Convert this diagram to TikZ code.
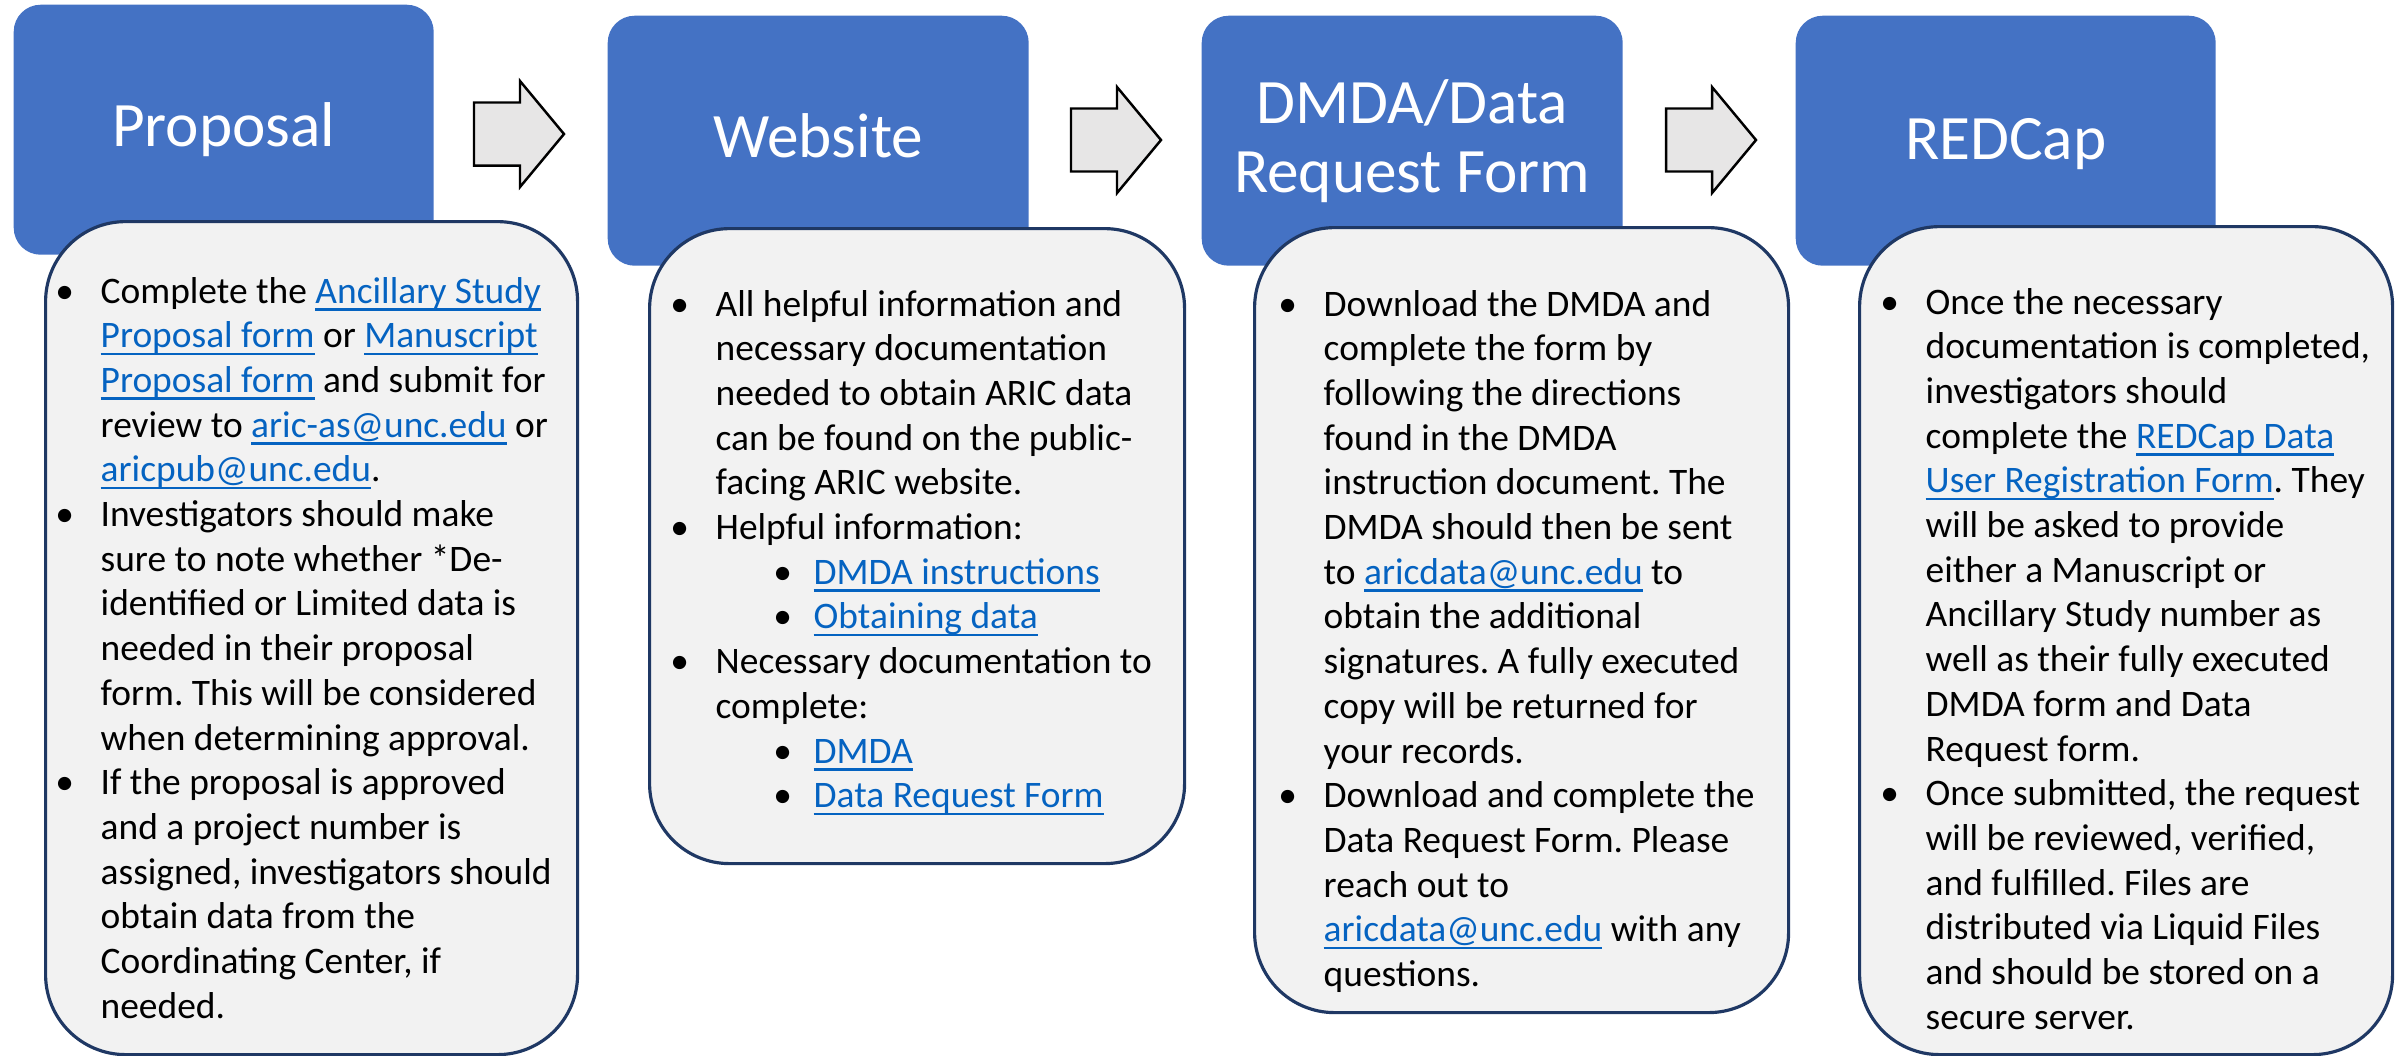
\documentclass[tikz,border=0pt]{standalone}
\usepackage{fontspec}
\setmainfont{Carlito}
\usepackage{tikz}
\frenchspacing
\definecolor{stepblue}{HTML}{4472C4}
\definecolor{infogray}{HTML}{F2F2F2}
\definecolor{infoline}{HTML}{1F3864}
\definecolor{arrowgray}{HTML}{E7E6E6}
\definecolor{linkblue}{HTML}{0563C1}
\newcommand\lnk[1]{{\color{linkblue}\setbox0\hbox{#1}\rlap{\rule[-0.075cm]{\wd0}{0.025cm}}\box0}}
\newcommand\bul{\llap{\makebox[0pt]{\textbullet}\hspace{0.36cm}}}
\newcommand\subbul{\hspace*{0.67cm}\makebox[0pt]{\textbullet}\hspace*{0.31cm}}
\tikzset{
  stepbox/.style={rectangle, rounded corners=0.27cm, fill=stepblue, anchor=north west, inner sep=0pt},
  steptitle/.style={text=white, font=\fontsize{18}{19.76}\selectfont, anchor=base, inner sep=0pt},
  infobox/.style={rectangle, rounded corners=0.8cm, fill=infogray, draw=infoline, line width=0.9pt, anchor=north west, inner sep=0pt},
  infotext/.style={font=\fontsize{10.65}{12.72}\selectfont, anchor=base west, inner sep=0pt},
  blockarrow/.style={fill=arrowgray, draw=black, line width=0.7pt, line join=miter}
}
\begin{document}
\begin{tikzpicture}
\useasboundingbox (0,0) rectangle (23.99,-10.55);
% Step headers
\node[stepbox, minimum width=4.20cm, minimum height=2.50cm] (proposal) at (0.13,-0.04) {};
\node[stepbox, minimum width=4.21cm, minimum height=2.50cm] (website) at (6.07,-0.15) {};
\node[stepbox, minimum width=4.21cm, minimum height=2.50cm] (dmda) at (12.01,-0.15) {};
\node[stepbox, minimum width=4.20cm, minimum height=2.50cm] (redcap) at (17.95,-0.15) {};
\node[steptitle, yshift=-0.17cm] (proposaltitle) at (proposal) {Proposal};
\node[steptitle, yshift=-0.17cm] (websitetitle) at (website) {Website};
\node[steptitle, yshift=0.175cm] (dmdatitle) at (dmda) {\begin{tabular}[t]{@{}c@{}}DMDA/Data\\Request Form\end{tabular}};
\node[steptitle, yshift=-0.19cm] (redcaptitle) at (redcap) {REDCap};
% Block arrows
\foreach \x/\y in {4.74/1.34, 10.71/1.40, 16.66/1.40}
  \draw[blockarrow, shift={(\x,-\y)}] (0,0.315) -- (0.46,0.315) -- (0.46,0.53) -- (0.9,0)
     -- (0.46,-0.53) -- (0.46,-0.315) -- (0,-0.315) -- cycle;
% Detail boxes
\node[infobox, minimum width=5.32cm, minimum height=8.33cm] (info1) at (0.44,-2.20) {};
\node[infobox, minimum width=5.35cm, minimum height=6.35cm] (info2) at (6.48,-2.27) {};
\node[infobox, minimum width=5.34cm, minimum height=7.85cm] (info3) at (12.53,-2.26) {};
\node[infobox, minimum width=5.33cm, minimum height=8.28cm] (info4) at (18.58,-2.25) {};
\node[infotext] (text1) at (1.00,-3.03) {\begin{tabular}[t]{@{}l@{}}
\bul Complete the \lnk{Ancillary Study}\\
\lnk{Proposal form} or \lnk{Manuscript}\\
\lnk{Proposal form} and submit for\\
review to \lnk{aric-as@unc.edu} or\\
\lnk{aricpub@unc.edu}.\\
\bul Investigators should make\\
sure to note whether *De-\\
identified or Limited data is\\
needed in their proposal\\
form. This will be considered\\
when determining approval.\\
\bul If the proposal is approved\\
and a project number is\\
assigned, investigators should\\
obtain data from the\\
Coordinating Center, if\\
needed.
\end{tabular}};
\node[infotext] (text2) at (7.15,-3.16) {\begin{tabular}[t]{@{}l@{}}
\bul All helpful information and\\
necessary documentation\\
needed to obtain ARIC data\\
can be found on the public-\\
facing ARIC website.\\
\bul Helpful information:\\
\subbul\lnk{DMDA instructions}\\
\subbul\lnk{Obtaining data}\\
\bul Necessary documentation to\\
complete:\\
\subbul\lnk{DMDA}\\
\subbul\lnk{Data Request Form}
\end{tabular}};
\node[infotext] (text3) at (13.23,-3.16) {\begin{tabular}[t]{@{}l@{}}
\bul Download the DMDA and\\
complete the form by\\
following the directions\\
found in the DMDA\\
instruction document. The\\
DMDA should then be sent\\
to \lnk{aricdata@unc.edu} to\\
obtain the additional\\
signatures. A fully executed\\
copy will be returned for\\
your records.\\
\bul Download and complete the\\
Data Request Form. Please\\
reach out to\\
\lnk{aricdata@unc.edu} with any\\
questions.
\end{tabular}};
\node[infotext] (text4) at (19.25,-3.14) {\begin{tabular}[t]{@{}l@{}}
\bul Once the necessary\\
documentation is completed,\\
investigators should\\
complete the \lnk{REDCap Data}\\
\lnk{User Registration Form}. They\\
will be asked to provide\\
either a Manuscript or\\
Ancillary Study number as\\
well as their fully executed\\
DMDA form and Data\\
Request form.\\
\bul Once submitted, the request\\
will be reviewed, verified,\\
and fulfilled. Files are\\
distributed via Liquid Files\\
and should be stored on a\\
secure server.
\end{tabular}};
\end{tikzpicture}
\end{document}
